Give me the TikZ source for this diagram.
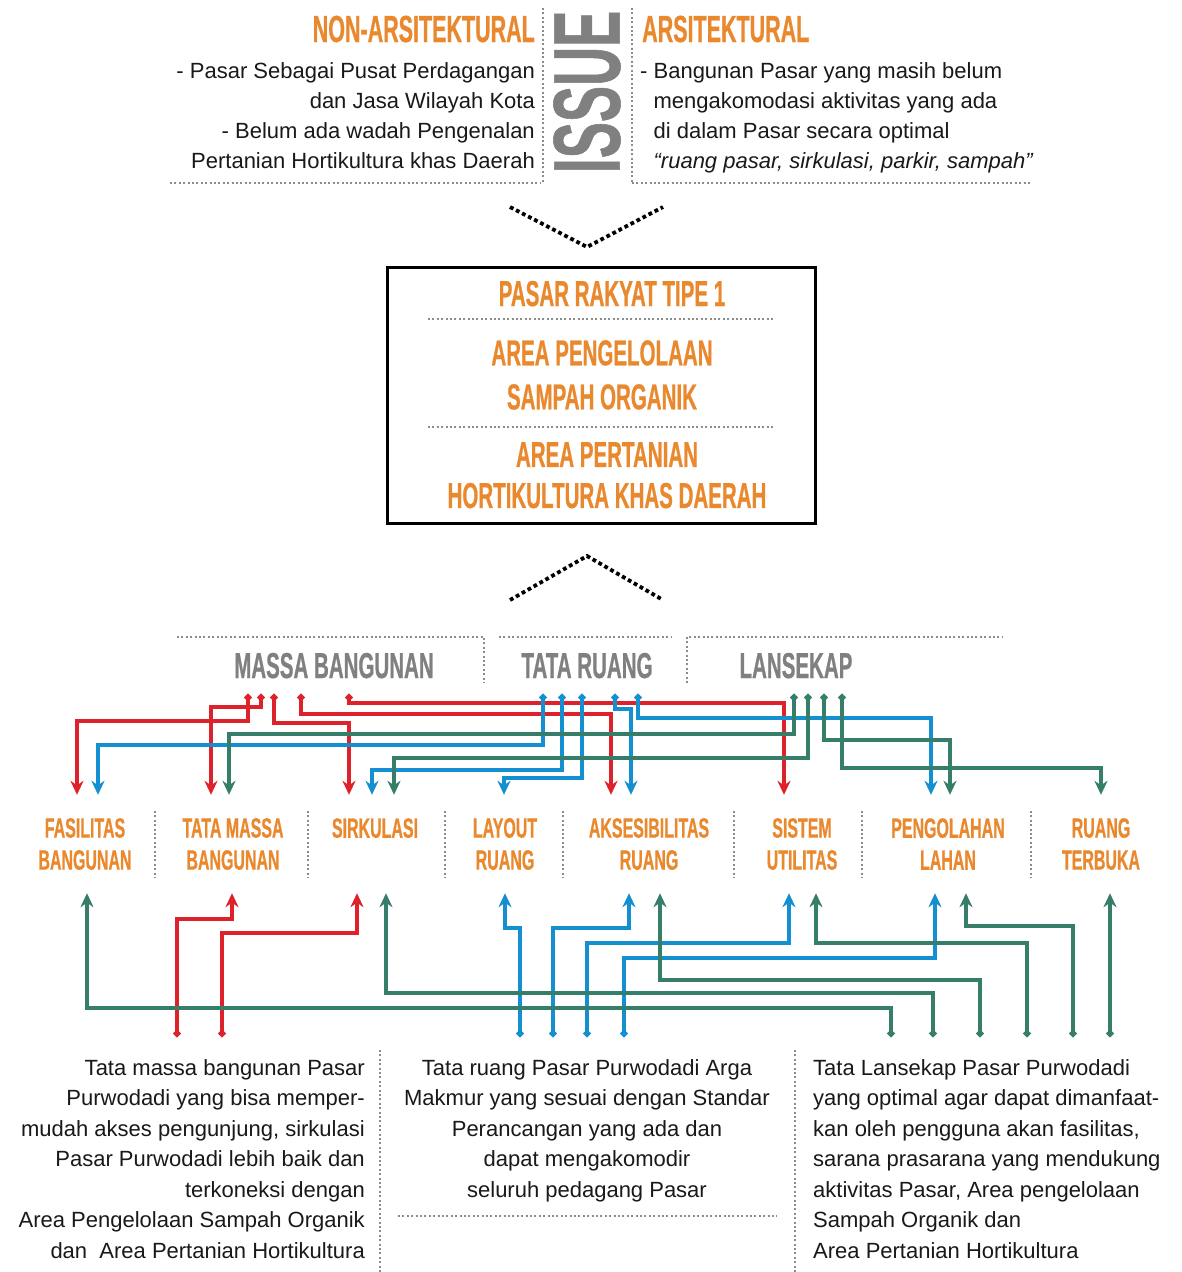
\documentclass[tikz,border=0pt]{standalone}
\usepackage{fontspec}
\setmainfont{Liberation Sans}
\newfontfamily\headfont[FakeStretch=0.57,FakeBold=0.6]{Liberation Sans Bold}
\usetikzlibrary{arrows.meta}
\definecolor{orangeT}{RGB}{233,136,44}
\definecolor{grayT}{RGB}{128,128,128}
\definecolor{redL}{RGB}{222,34,44}
\definecolor{blueL}{RGB}{20,143,208}
\definecolor{greenL}{RGB}{55,126,106}
\definecolor{sepgray}{RGB}{140,140,140}
\definecolor{ink}{RGB}{25,25,25}
\begin{document}
\begin{tikzpicture}[x=1pt,y=-1pt,
  body/.style={inner sep=0, text=ink, font=\fontsize{22}{30}\selectfont},
  bodyb/.style={inner sep=0, text=ink, font=\fontsize{22}{30.5}\selectfont},
  head/.style={inner sep=0, text=orangeT, font=\headfont\fontsize{37.7}{40}\selectfont},
  boxhead/.style={inner sep=0, text=orangeT, align=center, font=\headfont\fontsize{36}{43}\selectfont},
  grayhead/.style={inner sep=0, text=grayT, font=\headfont\fontsize{36}{40}\selectfont},
  cat/.style={inner sep=0, minimum height=98, align=center, text=orangeT, font=\headfont\fontsize{28}{32}\selectfont},
  sepline/.style={draw=sepgray, line width=2.1, dash pattern=on 2pt off 2.4pt},
  chev/.style={draw=black, line width=3.8, dash pattern=on 3.8pt off 3pt},
  conn/.style={line width=3.2, line join=miter, {Circle[length=7pt]}-{Stealth[length=14pt,width=13pt,inset=4.5pt]}},
  redc/.style={conn, draw=redL},
  bluec/.style={conn, draw=blueL},
  greenc/.style={conn, draw=greenL}]

\fill[white] (0,0) rectangle (1181,1272);
\useasboundingbox (0,0) rectangle (1181,1272);

% ---------- ISSUE section ----------
\node[head, anchor=base east] (nonarsi) at (535,42) {NON-ARSITEKTURAL};
\node[head, anchor=base west] (arsi) at (642,42) {ARSITEKTURAL};
\node[inner sep=0, rotate=90, text=grayT, font=\headfont\fontsize{95}{95}\selectfont] (issue) at (587,92) {ISSUE};
\draw[sepline] (543,8) -- (543,183);
\draw[sepline] (632,8) -- (632,183);
\draw[sepline] (170,183) -- (540,183);
\draw[sepline] (632,183) -- (1030,183);

\node[body, align=right, anchor=north east] (tl) at (535,62)
  {- Pasar Sebagai Pusat Perdagangan\\dan Jasa Wilayah Kota\\- Belum ada wadah Pengenalan\\Pertanian Hortikultura khas Daerah};
\node[body, align=left, anchor=north west] (tr) at (640,62)
  {- Bangunan Pasar yang masih belum\\\hphantom{- }mengakomodasi aktivitas yang ada\\\hphantom{- }di dalam Pasar secara optimal\\\hphantom{- }\textit{“ruang pasar, sirkulasi, parkir, sampah”}};

% ---------- chevrons ----------
\draw[chev] (510,207) -- (587,247) -- (663,207);
\draw[chev] (510,600) -- (587,556) -- (663,600);

% ---------- central box ----------
\node[draw=black, line width=3, minimum width=428, minimum height=256, inner sep=0] (box) at (601,395) {};
\node[boxhead, anchor=base] (tipe) at (612,306) {PASAR RAKYAT TIPE 1};
\draw[sepline] (428,319) -- (773,319);
\node[boxhead, anchor=north, font=\headfont\fontsize{36}{44}\selectfont] (sampah) at (602,340) {AREA PENGELOLAAN\\SAMPAH ORGANIK};
\draw[sepline] (428,427) -- (773,427);
\node[boxhead, anchor=north, font=\headfont\fontsize{36}{41}\selectfont] (tani) at (607,442) {AREA PERTANIAN\\HORTIKULTURA KHAS DAERAH};

% ---------- aspect headers ----------
\draw[sepline] (177,637) -- (484,637) -- (484,683);
\draw[sepline] (499,637) -- (672,637);
\draw[sepline] (687,683) -- (687,637) -- (1003,637);
\node[grayhead, anchor=base] (massa) at (334,678) {MASSA BANGUNAN};
\node[grayhead, anchor=base] (ruang) at (587,678) {TATA RUANG};
\node[grayhead, anchor=base] (lansekap) at (796,678) {LANSEKAP};

% ---------- categories ----------
\node[cat] (fas) at (85,844) {FASILITAS\\BANGUNAN};
\node[cat] (tm) at (233,844) {TATA MASSA\\BANGUNAN};
\node[cat] (sir) at (375,844) {SIRKULASI\\\mbox{}};
\node[cat] (lay) at (505,844) {LAYOUT\\RUANG};
\node[cat] (aks) at (649,844) {AKSESIBILITAS\\RUANG};
\node[cat] (sis) at (802,844) {SISTEM\\UTILITAS};
\node[cat] (pen) at (948,844) {PENGOLAHAN\\LAHAN};
\node[cat] (rt) at (1101,844) {RUANG\\TERBUKA};
\foreach \x in {155,308,445,563,734,862,1031} \draw[sepline] (\x,811) -- (\x,878);

% ---------- connector start points (top) ----------
\coordinate (r1) at (248,694);
\coordinate (r2) at (261,694);
\coordinate (r3) at (274,694);
\coordinate (r4) at (301,694);
\coordinate (r5) at (349,694);
\coordinate (b1) at (543,694);
\coordinate (b2) at (562,694);
\coordinate (b3) at (582,694);
\coordinate (b4) at (615,694);
\coordinate (b5) at (638,694);
\coordinate (g1) at (794,694);
\coordinate (g2) at (808,694);
\coordinate (g3) at (824,694);
\coordinate (g4) at (842,694);
% ---------- connector start points (bottom) ----------
\coordinate (r6) at (177,1037);
\coordinate (r7) at (222,1037);
\coordinate (b6) at (520,1037);
\coordinate (b7) at (553,1037);
\coordinate (b8) at (587,1037);
\coordinate (b9) at (624,1037);
\coordinate (g5) at (891,1037);
\coordinate (g6) at (933,1037);
\coordinate (g7) at (980,1037);
\coordinate (g8) at (1027,1037);
\coordinate (g9) at (1073,1037);
\coordinate (g10) at (1110,1037);

% ---------- top connectors ----------
\draw[redc] (r1) |- (77,721) -- (77,0 |- fas.north);
\draw[redc] (r2) |- (211,707) -- (211,0 |- tm.north);
\draw[redc] (r3) |- (349,723) -- (349,0 |- sir.north);
\draw[redc] (r4) |- (611,714) -- (611,0 |- aks.north);
\draw[redc] (r5) |- (784,703) -- (784,0 |- sis.north);
\draw[bluec] (b1) |- (98,745) -- (98,0 |- fas.north);
\draw[bluec] (b2) |- (372,770) -- (372,0 |- sir.north);
\draw[bluec] (b3) |- (504,778) -- (504,0 |- lay.north);
\draw[bluec] (b4) |- (631,709) -- (631,0 |- aks.north);
\draw[bluec] (b5) |- (931,718) -- (931,0 |- pen.north);
\draw[greenc] (g1) |- (229,734) -- (229,0 |- tm.north);
\draw[greenc] (g2) |- (394,758) -- (394,0 |- sir.north);
\draw[greenc] (g3) |- (950,740) -- (950,0 |- pen.north);
\draw[greenc] (g4) |- (1101,768) -- (1101,0 |- rt.north);

% ---------- bottom connectors ----------
\draw[redc] (r6) |- (232,919) -- (232,0 |- tm.south);
\draw[redc] (r7) |- (357,933) -- (357,0 |- sir.south);
\draw[bluec] (b6) |- (505,928) -- (505,0 |- lay.south);
\draw[bluec] (b7) |- (629,928) -- (629,0 |- aks.south);
\draw[bluec] (b8) |- (789,943) -- (789,0 |- sis.south);
\draw[bluec] (b9) |- (935,958) -- (935,0 |- pen.south);
\draw[greenc] (g5) |- (87,1008) -- (87,0 |- fas.south);
\draw[greenc] (g6) |- (386,993) -- (386,0 |- sir.south);
\draw[greenc] (g7) |- (660,980) -- (660,0 |- aks.south);
\draw[greenc] (g8) |- (816,943) -- (816,0 |- sis.south);
\draw[greenc] (g9) |- (966,926) -- (966,0 |- pen.south);
\draw[greenc] (g10) -- (1110,0 |- rt.south);

% ---------- bottom texts ----------
\draw[sepline] (380,1050) -- (380,1272);
\draw[sepline] (795,1050) -- (795,1272);
\draw[sepline] (398,1216) -- (777,1216);
\node[bodyb, align=right, anchor=north east] (botl) at (365,1059)
  {Tata massa bangunan Pasar\\Purwodadi yang bisa memper-\\mudah akses pengunjung, sirkulasi\\Pasar Purwodadi lebih baik dan\\terkoneksi dengan\\Area Pengelolaan Sampah Organik\\dan~ Area Pertanian Hortikultura};
\node[bodyb, align=center, anchor=north] (botm) at (587,1059)
  {Tata ruang Pasar Purwodadi Arga\\Makmur yang sesuai dengan Standar\\Perancangan yang ada dan\\dapat mengakomodir\\seluruh pedagang Pasar};
\node[bodyb, align=left, anchor=north west] (botr) at (813,1059)
  {Tata Lansekap Pasar Purwodadi\\yang optimal agar dapat dimanfaat-\\kan oleh pengguna akan fasilitas,\\sarana prasarana yang mendukung\\aktivitas Pasar, Area pengelolaan\\Sampah Organik dan\\Area Pertanian Hortikultura};
\end{tikzpicture}
\end{document}
